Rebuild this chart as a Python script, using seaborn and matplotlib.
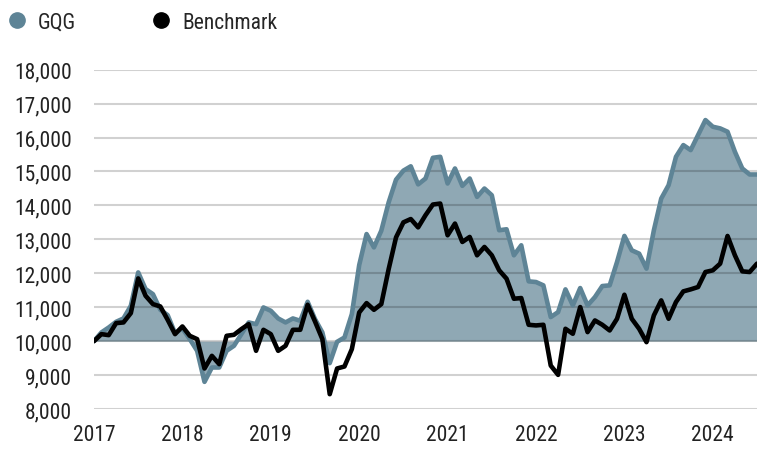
import numpy as np
import pandas as pd
import matplotlib
matplotlib.use('Agg')
import matplotlib.pyplot as plt
from matplotlib import font_manager as fm
from matplotlib.lines import Line2D
import seaborn as sns

# Growth of 10,000, monthly, Jan 2017 - Jul 2024
years = ['2017', '2018', '2019', '2020', '2021', '2022', '2023', '2024']

gqg = [10000, 10256, 10403, 10570, 10669, 11042, 12026, 11534, 11386, 10924,
       10767, 10236, 10374, 10059, 9715, 8800, 9223, 9223, 9715, 9862,
       10206, 10551, 10501, 10993, 10895, 10669, 10551, 10669, 10600, 11160,
       10649, 10256, 9351, 9980, 10108, 10796, 12242, 13156, 12763, 13255,
       14091, 14759, 15025, 15153, 14620, 14793, 15404, 15433, 14646, 15089,
       14577, 14793, 14252, 14498, 14301, 13268, 13297, 12530, 12825, 11762,
       11742, 11644, 10709, 10856, 11526, 11053, 11565, 11053, 11299, 11624,
       11644, 12333, 13101, 12677, 12579, 12136, 13268, 14203, 14597, 15433,
       15778, 15630, 16073, 16516, 16319, 16270, 16172, 15581, 15089, 14912,
       14912]

benchmark = [10000, 10206, 10177, 10531, 10551, 10826, 11849, 11337, 11091, 11022,
             10629, 10206, 10433, 10157, 10059, 9194, 9567, 9322, 10157, 10187,
             10354, 10501, 9715, 10334, 10206, 9715, 9862, 10334, 10334, 11072,
             10580, 10059, 8437, 9194, 9253, 9764, 10846, 11121, 10924, 11091,
             12124, 13058, 13501, 13599, 13353, 13711, 14026, 14055, 13120, 13465,
             12923, 13071, 12530, 12776, 12530, 12087, 11841, 11250, 11270, 10482,
             10463, 10482, 9281, 9006, 10364, 10217, 11004, 10266, 10610, 10482,
             10315, 10659, 11368, 10659, 10364, 9970, 10758, 11201, 10659, 11152,
             11467, 11526, 11595, 12037, 12087, 12284, 13100, 12530, 12057, 12037,
             12284]

df = pd.DataFrame({'month': np.arange(len(gqg)), 'GQG': gqg, 'Benchmark': benchmark})

teal = '#5E8496'
fill = '#8FA8B4'

sns.set_style('white')

# pick a condensed face if one is installed, otherwise Roboto
cond = None
for f in fm.fontManager.ttflist:
    if f.name in ('Roboto Condensed', 'Liberation Sans Narrow', 'Open Sans Condensed'):
        cond = (f.name, 'normal')
        break
    if f.name in ('DejaVu Sans', 'Noto Sans', 'Open Sans') and str(f.stretch) in ('condensed', 'semi-condensed', '500', '600'):
        cond = (f.name, 'condensed')
if cond:
    plt.rcParams['font.family'] = [cond[0], 'DejaVu Sans']
    plt.rcParams['font.stretch'] = cond[1]
    fs = 15.5
else:
    plt.rcParams['font.family'] = ['Roboto', 'DejaVu Sans']
    fs = 13.5

fig = plt.figure(figsize=(7.57, 4.52), dpi=100)
ax = fig.add_axes([94 / 757, 1 - 410 / 452, 663 / 757, (410 - 70.7) / 452])

ax.fill_between(df['month'], df['GQG'], 10000, color=fill, lw=0, zorder=1)
ax.grid(axis='y', color='black', alpha=0.18, lw=1.5, zorder=2)
ax.set_axisbelow(False)
sns.lineplot(data=df, x='month', y='GQG', color=teal, lw=3.3, ax=ax, zorder=3)
sns.lineplot(data=df, x='month', y='Benchmark', color='black', lw=3.3, ax=ax, zorder=4)

ax.set_xlim(0, len(gqg) - 1)
ax.set_ylim(8000, 18000)
ax.set_yticks(range(8000, 18001, 1000))
ax.set_yticklabels([f'{v:,}' for v in range(8000, 18001, 1000)])
ax.set_xticks(range(0, 12 * len(years), 12))
ax.set_xticklabels(years)
ax.tick_params(axis='both', length=0, labelsize=fs, colors='#222222')
ax.tick_params(axis='y', pad=16)
ax.tick_params(axis='x', pad=11)
ax.set_xlabel('')
ax.set_ylabel('')
for s in ax.spines.values():
    s.set_visible(False)
for gl in ax.get_ygridlines():
    gl.set_zorder(2)

handles = [
    Line2D([], [], marker='o', ls='', color=teal, markersize=11),
    Line2D([], [], marker='o', ls='', color='black', markersize=11),
]
fig.legend(handles, ['GQG', 'Benchmark'], loc='upper left', bbox_to_anchor=(-0.012, 1.005),
           ncol=2, frameon=False, fontsize=fs, handletextpad=0.48,
           columnspacing=3.47, borderaxespad=0.3, handlelength=1.0)

fig.savefig('out.png', dpi=100)
